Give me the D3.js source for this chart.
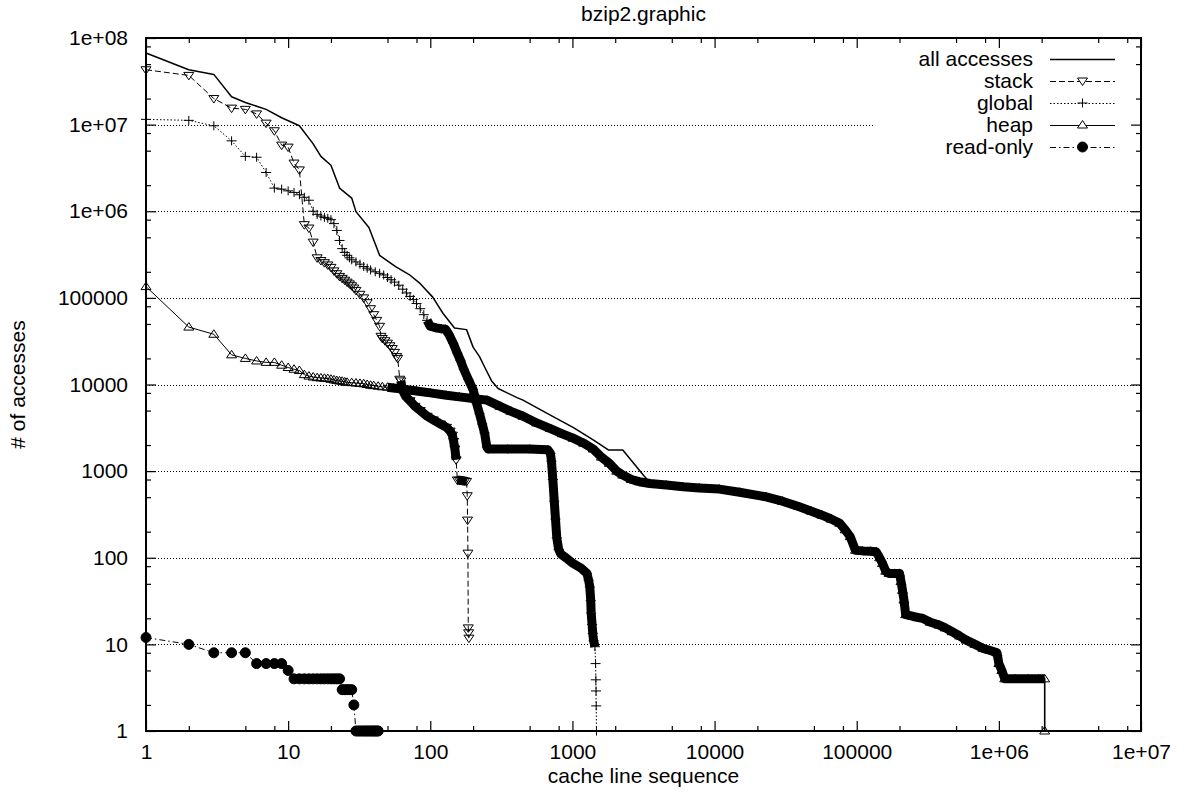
<!DOCTYPE html>
<html>
<head>
<meta charset="utf-8">
<script src="https://cdn.jsdelivr.net/npm/d3@7"></script>
<style>
  body { margin: 0; background: #fff; }
  svg text { font-family: "Liberation Sans", Arial, Helvetica, sans-serif; fill: #000; }
</style>
</head>
<body>
<svg id="chart" width="1188" height="793"></svg>
<script>
// ---- tick labels -------------------------------------------------------
const xTickValues = [1, 10, 100, 1000, 1e4, 1e5, 1e6, 1e7];
const xTickLabels = ["1", "10", "100", "1000", "10000", "100000", "1e+06", "1e+07"];
const yTickValues = [1, 10, 100, 1000, 1e4, 1e5, 1e6, 1e7, 1e8];
const yTickLabels = ["1", "10", "100", "1000", "10000", "100000", "1e+06", "1e+07", "1e+08"];

// ---- series: [cache line rank, number of accesses] ---------------------
const seriesNames = ["all accesses", "stack", "global", "heap", "read-only"];

const allAccesses = [
  [1, 6.7e7], [2, 4.3e7], [3, 3.8e7], [4, 2.1e7], [5, 1.8e7], [7, 1.5e7], [9, 1.2e7],
  [12, 9.7e6], [15, 6.0e6], [17, 4.3e6], [20, 3.4e6], [23, 1.85e6], [28, 1.42e6],
  [30, 9.9e5], [37, 6.5e5], [44, 3.1e5], [57, 2.3e5], [71, 1.86e5], [85, 1.46e5],
  [104, 1.02e5], [123, 6.6e4], [148, 4.5e4], [180, 4.3e4], [200, 2.7e4], [222, 2.1e4],
  [247, 1.47e4], [270, 1.1e4], [300, 9.0e3], [404, 7.1e3], [449, 6.6e3], [694, 4.45e3],
  [1010, 3.2e3], [1400, 2.3e3], [1800, 1.75e3], [2260, 1.75e3], [3150, 900], [3500, 740],
  [4580, 700], [6000, 665], [7800, 645], [10800, 625], [15000, 575], [23000, 510],
  [30000, 455], [39000, 395], [48000, 350], [57000, 315], [66000, 283], [76000, 252],
  [83000, 212], [90000, 177], [98000, 124], [137000, 119], [152000, 88], [160000, 70],
  [169000, 67], [200000, 67], [205000, 54], [215000, 33], [221000, 22.5], [290000, 20.5],
  [380000, 17], [470000, 14.2], [590000, 11.4], [680000, 10.2], [775000, 9.1],
  [970000, 8.1], [1000000, 6.1], [1050000, 5.1], [1100000, 4.1], [2100000, 4.1], [2100000, 1]
];

const stack = [
  [1, 4.3e7], [2, 3.7e7], [3, 2.0e7], [4, 1.55e7], [5, 1.5e7], [6, 1.33e7], [7, 1.04e7],
  [8, 8.5e6], [9, 5.8e6], [10, 5.5e6], [11, 3.6e6], [12, 3.0e6], [13, 7.0e5], [14, 6.4e5],
  [15, 4.4e5], [16, 2.9e5], [17, 2.7e5], [18, 2.55e5], [19, 2.4e5], [20, 2.25e5],
  [21, 2.05e5], [22, 1.9e5], [23, 1.77e5], [24, 1.68e5], [25, 1.6e5], [26, 1.52e5],
  [27, 1.45e5], [28, 1.38e5], [29, 1.3e5], [30, 1.22e5], [32, 1.1e5], [34, 1.0e5],
  [36, 8.8e4], [38, 7.5e4], [40, 6.4e4], [42, 5.5e4], [44, 4.7e4], [45, 3.6e4],
  [46, 3.4e4], [48, 3.2e4], [50, 3.0e4], [52, 2.8e4], [54, 2.6e4], [56, 2.35e4],
  [58, 2.1e4], [59, 2.0e4], [61, 1.15e4], [62, 1.1e4], [64, 8.5e3], [67, 7.3e3],
  [72, 6.5e3], [78, 5.6e3], [85, 5.0e3], [95, 4.3e3], [105, 3.9e3], [118, 3.5e3],
  [130, 3.2e3], [138, 2.9e3], [143, 2.6e3], [146, 2.2e3], [149, 1.8e3], [152, 1.35e3],
  [155, 790], [160, 785], [165, 780], [170, 775], [175, 770], [180, 760],
  [182, 520], [183, 272], [184, 113], [185, 15.5], [186, 13.6], [187, 11.8]
];

const globalData = [
  [1, 1.15e7], [2, 1.12e7], [3, 9.7e6], [4, 6.5e6], [5, 4.3e6], [6, 4.2e6], [7, 2.8e6],
  [8, 1.85e6], [9, 1.8e6], [10, 1.72e6], [11, 1.65e6], [12, 1.55e6], [13, 1.45e6],
  [14, 1.34e6], [15, 1.0e6], [16, 9.2e5], [17, 8.8e5], [18, 8.5e5], [19, 8.3e5],
  [20, 8.0e5], [21, 7.2e5], [22, 6.0e5], [23, 4.6e5], [24, 3.7e5], [25, 3.35e5],
  [26, 3.1e5], [27, 2.9e5], [28, 2.75e5], [30, 2.6e5], [32, 2.45e5], [34, 2.3e5],
  [36, 2.2e5], [38, 2.1e5], [41, 2.0e5], [44, 1.92e5], [47, 1.84e5], [50, 1.72e5],
  [53, 1.62e5], [56, 1.52e5], [60, 1.4e5], [64, 1.26e5], [68, 1.14e5], [72, 1.04e5],
  [76, 9.6e4], [80, 8.6e4], [85, 7.5e4], [90, 6.4e4], [95, 5.5e4], [100, 4.7e4],
  [110, 4.5e4], [120, 4.4e4], [128, 4.35e4], [135, 3.8e4], [145, 3.0e4], [155, 2.3e4],
  [163, 1.9e4], [172, 1.5e4], [185, 1.15e4], [200, 8.7e3], [212, 6.0e3], [222, 4.6e3],
  [232, 3.5e3], [241, 2.75e3], [250, 1.9e3], [255, 1.8e3], [350, 1.8e3], [500, 1.8e3],
  [600, 1.78e3], [672, 1.76e3], [700, 1.6e3], [712, 1.3e3], [728, 800], [745, 450],
  [760, 280], [776, 170], [800, 125], [830, 110], [900, 100], [1010, 86], [1150, 76],
  [1265, 66], [1300, 55], [1325, 46], [1345, 32], [1355, 23], [1375, 17], [1390, 13.4],
  [1410, 11], [1440, 9.4], [1455, 6], [1462, 3.9], [1466, 2.9], [1470, 1.95], [1476, 1]
];

const heap = [
  [1, 1.35e5], [2, 4.6e4], [3, 3.8e4], [4, 2.2e4], [5, 2.0e4], [6, 1.87e4], [7, 1.8e4],
  [8, 1.8e4], [9, 1.67e4], [10, 1.57e4], [11, 1.5e4], [12, 1.45e4], [13, 1.3e4],
  [14, 1.25e4], [15, 1.22e4], [16, 1.2e4], [17, 1.19e4], [18, 1.18e4], [19, 1.17e4],
  [20, 1.15e4], [21, 1.13e4], [22, 1.11e4], [23, 1.1e4], [24, 1.09e4], [25, 1.07e4],
  [26, 1.06e4], [28, 1.05e4], [30, 1.04e4], [32, 1.03e4], [34, 1.02e4], [36, 1.0e4],
  [38, 9.8e3], [40, 9.7e3], [43, 9.55e3], [46, 9.4e3], [50, 9.3e3], [55, 9.1e3],
  [65, 8.8e3], [80, 8.4e3], [100, 8.0e3], [130, 7.5e3], [160, 7.2e3], [200, 6.9e3],
  [250, 6.6e3], [310, 5.6e3], [370, 4.9e3], [450, 4.3e3], [560, 3.6e3], [700, 3.1e3],
  [850, 2.7e3], [1010, 2.4e3], [1200, 2.1e3], [1400, 1.8e3], [1600, 1.45e3],
  [1820, 1.23e3], [2050, 1.0e3], [2260, 900], [2600, 800], [2950, 755], [3500, 720],
  [4580, 690], [6000, 660], [7800, 640], [10800, 620], [15000, 570], [23000, 505],
  [30000, 450], [39000, 390], [48000, 345], [57000, 310], [66000, 280], [76000, 250],
  [83000, 210], [90000, 175], [98000, 122], [110000, 120], [125000, 119], [137000, 117],
  [145000, 100], [152000, 86], [160000, 70], [169000, 66], [185000, 66], [200000, 66],
  [205000, 53], [210000, 42], [215000, 32.5], [221000, 22], [250000, 21], [290000, 20],
  [330000, 18], [380000, 16.7], [420000, 15.5], [470000, 14], [530000, 12.5],
  [590000, 11.2], [680000, 10], [775000, 9], [870000, 8.5], [970000, 8], [1000000, 6],
  [1050000, 5], [1100000, 4], [1300000, 4], [1600000, 4], [1900000, 4], [2100000, 4],
  [2100000, 1]
];

const readOnly = [
  [1, 12], [2, 10], [3, 8], [4, 8], [5, 8], [6, 6], [7, 6], [8, 6], [9, 6], [10, 5],
  [11, 4], [12, 4], [13, 4], [14, 4], [15, 4], [16, 4], [17, 4], [18, 4], [19, 4],
  [20, 4], [21, 4], [22, 4], [23, 4], [24, 3], [25, 3], [26, 3], [27, 3], [28, 3],
  [29, 2], [30, 1], [31, 1], [32, 1], [33, 1], [34, 1], [35, 1], [36, 1], [37, 1],
  [38, 1], [39, 1], [40, 1], [41, 1], [42, 1], [43, 1]
];

// ---- layout & styles ---------------------------------------------------
const plot = { left: 146, right: 1141, top: 38, bottom: 731 };
const fontSize = 21;

const markerPaths = {
  triDown: "M-5,-3L5,-3L0,4.5Z",
  triUp: "M-5,3L5,3L0,-4.5Z",
  plus: "M-5,0H5M0,-4.5V4.5",
  dot: d3.symbol(d3.symbolCircle, Math.PI * 25)()
};

// bands: rank ranges where the markers pile up into a solid black ribbon
const series = [
  { name: seriesNames[0], data: allAccesses, width: 1.5, dash: null, marker: null, bands: [] },
  { name: seriesNames[1], data: stack, width: 1, dash: "6,3", marker: "triDown",
    bands: [{ from: 62, to: 152, min: 0 }, { from: 155, to: 180, min: 0 }] },
  { name: seriesNames[2], data: globalData, width: 1, dash: "1.5,2", marker: "plus",
    bands: [{ from: 95, to: 1440, min: 0 }] },
  { name: seriesNames[3], data: heap, width: 1, dash: null, marker: "triUp",
    bands: [{ from: 50, to: 2100000, min: 2 }] },
  { name: seriesNames[4], data: readOnly, width: 1, dash: "6,3,1.5,3", marker: "dot", bands: [] }
];

const svg = d3.select("#chart");

const x = d3.scaleLog().domain([1, 1e7]).range([plot.left, plot.right]);
const y = d3.scaleLog().domain([1, 1e8]).range([plot.bottom, plot.top]);

// minor ticks at 2, 5 and 8 within each decade
function minorTicks(lo, hi) {
  const out = [];
  for (let p = lo; p < hi; p++) for (const m of [2, 5, 8]) out.push(m * Math.pow(10, p));
  return out;
}
const xMinor = minorTicks(0, 7);
const yMinor = minorTicks(0, 8);

// ---- horizontal dotted grid --------------------------------------------
const gridValues = yTickValues.filter(v => v > 1 && v < 1e8);
svg.append("g")
  .selectAll("line").data(gridValues).join("line")
  .attr("x1", plot.left).attr("x2", plot.right)
  .attr("y1", d => Math.round(y(d)) + 0.5).attr("y2", d => Math.round(y(d)) + 0.5)
  .attr("stroke", "#000").attr("stroke-width", 1).attr("stroke-dasharray", "1,2");

// opaque key background
const key = { x: 875, y: plot.top + 1, right: plot.right, bottom: 158 };
svg.append("rect")
  .attr("x", key.x).attr("y", key.y)
  .attr("width", key.right - key.x).attr("height", key.bottom - key.y)
  .attr("fill", "#fff");

// ---- data ---------------------------------------------------------------
const line = d3.line().x(d => x(d[0])).y(d => y(d[1]));
const dataG = svg.append("g");

series.forEach(s => {
  const g = dataG.append("g");
  g.append("path")
    .attr("d", line(s.data))
    .attr("fill", "none").attr("stroke", "#000")
    .attr("stroke-width", s.width)
    .attr("stroke-dasharray", s.dash)
    .attr("stroke-linejoin", "round");

  s.bands.forEach(b => {
    const pts = s.data.filter(d => d[0] >= b.from && d[0] <= b.to && d[1] >= b.min);
    g.append("path")
      .attr("d", line(pts))
      .attr("fill", "none").attr("stroke", "#000")
      .attr("stroke-width", 9)
      .attr("stroke-linejoin", "round").attr("stroke-linecap", "butt");
  });

  if (s.marker) {
    const filled = s.marker === "dot";
    g.selectAll("path.mk").data(s.data).join("path")
      .attr("class", "mk")
      .attr("d", markerPaths[s.marker])
      .attr("transform", d => `translate(${x(d[0])},${y(d[1])})`)
      .attr("fill", filled ? "#000" : "none")
      .attr("stroke", "#000").attr("stroke-width", 1);
  }
});

// ---- axes (ticks point inward, mirrored on top and right) --------------
function styleAxis(g) {
  g.select(".domain").remove();
  g.selectAll(".tick line").attr("stroke", "#000").attr("stroke-width", 1.2);
  g.attr("font-size", fontSize).attr("font-family", null);
  g.selectAll("text").attr("fill", "#000");
}

svg.append("g").attr("transform", `translate(0,${plot.bottom})`)
  .call(d3.axisBottom(x).tickValues(xTickValues).tickFormat((d, i) => xTickLabels[i])
    .tickSize(-10).tickPadding(13))
  .call(styleAxis);
svg.append("g").attr("transform", `translate(0,${plot.bottom})`)
  .call(d3.axisBottom(x).tickValues(xMinor).tickFormat("").tickSize(-5))
  .call(styleAxis);
svg.append("g").attr("transform", `translate(0,${plot.top})`)
  .call(d3.axisTop(x).tickValues(xTickValues).tickFormat("").tickSize(-10))
  .call(styleAxis);
svg.append("g").attr("transform", `translate(0,${plot.top})`)
  .call(d3.axisTop(x).tickValues(xMinor).tickFormat("").tickSize(-5))
  .call(styleAxis);

svg.append("g").attr("transform", `translate(${plot.left},0)`)
  .call(d3.axisLeft(y).tickValues(yTickValues).tickFormat((d, i) => yTickLabels[i])
    .tickSize(-10).tickPadding(18))
  .call(styleAxis);
svg.append("g").attr("transform", `translate(${plot.left},0)`)
  .call(d3.axisLeft(y).tickValues(yMinor).tickFormat("").tickSize(-5))
  .call(styleAxis);
svg.append("g").attr("transform", `translate(${plot.right},0)`)
  .call(d3.axisRight(y).tickValues(yTickValues).tickFormat("").tickSize(-10))
  .call(styleAxis);
svg.append("g").attr("transform", `translate(${plot.right},0)`)
  .call(d3.axisRight(y).tickValues(yMinor).tickFormat("").tickSize(-5))
  .call(styleAxis);

// border
svg.append("rect")
  .attr("x", plot.left).attr("y", plot.top)
  .attr("width", plot.right - plot.left).attr("height", plot.bottom - plot.top)
  .attr("fill", "none").attr("stroke", "#000").attr("stroke-width", 2);

// ---- key ---------------------------------------------------------------
const keyRow0 = 59, keyStep = 22, keyTextX = 1033, keyLine = [1050, 1115];
const keyG = svg.append("g");
series.forEach((s, i) => {
  const yy = keyRow0 + i * keyStep;
  keyG.append("text")
    .attr("x", keyTextX).attr("y", yy).attr("dy", "0.35em")
    .attr("text-anchor", "end").attr("font-size", fontSize)
    .text(s.name);
  keyG.append("line")
    .attr("x1", keyLine[0]).attr("x2", keyLine[1]).attr("y1", yy + 0.5).attr("y2", yy + 0.5)
    .attr("stroke", "#000").attr("stroke-width", s.width)
    .attr("stroke-dasharray", s.dash);
  if (s.marker) {
    keyG.append("path")
      .attr("d", markerPaths[s.marker])
      .attr("transform", `translate(${(keyLine[0] + keyLine[1]) / 2},${yy})`)
      .attr("fill", s.marker === "dot" ? "#000" : "#fff")
      .attr("stroke", "#000").attr("stroke-width", 1);
  }
});

// ---- titles ------------------------------------------------------------
svg.append("text")
  .attr("x", (plot.left + plot.right) / 2).attr("y", 21)
  .attr("text-anchor", "middle").attr("font-size", fontSize)
  .text("bzip2.graphic");
svg.append("text")
  .attr("x", (plot.left + plot.right) / 2).attr("y", 783)
  .attr("text-anchor", "middle").attr("font-size", fontSize)
  .text("cache line sequence");
svg.append("text")
  .attr("transform", `translate(25,${(plot.top + plot.bottom) / 2}) rotate(-90)`)
  .attr("text-anchor", "middle").attr("font-size", fontSize)
  .text("# of accesses");
</script>
</body>
</html>
